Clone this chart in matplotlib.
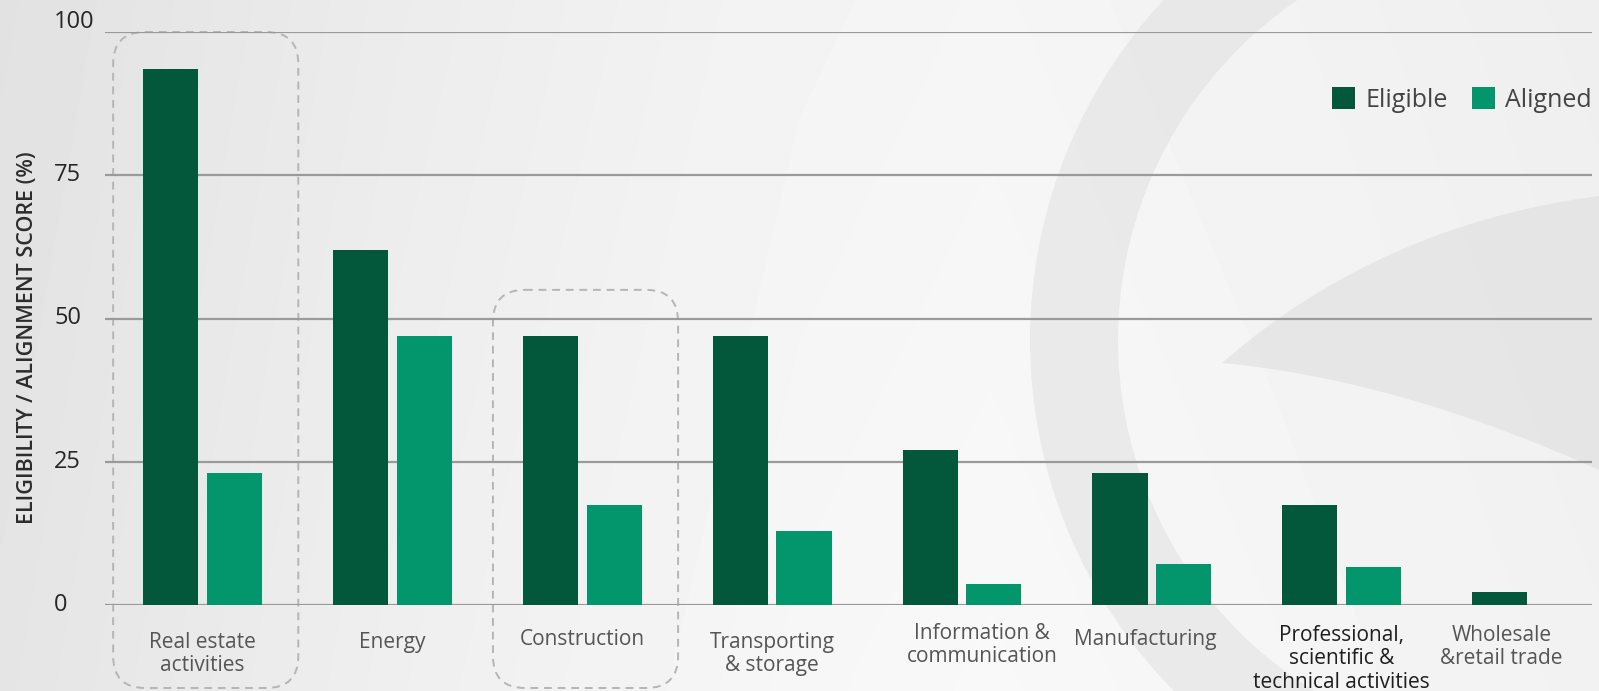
import numpy as np
import matplotlib
matplotlib.use("Agg")
import matplotlib.pyplot as plt
from matplotlib.patches import FancyBboxPatch, Wedge, Polygon, Patch
from matplotlib.transforms import blended_transform_factory

# ---------------- data ----------------
categories = [
    "Real estate\nactivities",
    "Energy",
    "Construction",
    "Transporting\n& storage",
    "Information &\ncommunication",
    "Manufacturing",
    "Professional,\nscientific &\ntechnical activities",
    "Wholesale\n&retail trade",
]
eligible = [93.5, 62, 47, 47, 27, 23, 17.5, 2.2]
aligned = [23, 47, 17.5, 13, 3.6, 7.2, 6.7, 0]
series_names = ["Eligible", "Aligned"]
yticks = [0, 25, 50, 75, 100]
ylabel = "ELIGIBILITY / ALIGNMENT SCORE (%)"
highlighted = [0, 2]          # categories with dashed frames

# ---------------- layout / style ----------------
W, H = 1599, 691
C_ELIG = "#03583c"
C_ALIG = "#03956b"
FONT = ["Open Sans", "DejaVu Sans"]
plt.rcParams["font.family"] = FONT

fig = plt.figure(figsize=(W / 100, H / 100), dpi=100)

# background axes in pixel coordinates (origin top-left)
bg = fig.add_axes([0, 0, 1, 1], zorder=0)
bg.set_xlim(0, W)
bg.set_ylim(H, 0)
bg.axis("off")
xx = np.linspace(0, 1, 400)
prof = np.interp(xx, [0, 0.25, 0.5, 0.62, 0.8, 1.0],
                 [0.885, 0.925, 0.955, 0.962, 0.95, 0.935])
yy = np.linspace(0, 1, 200)[:, None]
grad = prof[None, :] + 0.012 * yy
bg.imshow(np.clip(grad, 0, 1), cmap="gray", vmin=0, vmax=1,
          extent=[0, W, H, 0], aspect="auto", interpolation="bicubic")


def qbez(p0, p1, p2, n=40):
    t = np.linspace(0, 1, n)[:, None]
    p0, p1, p2 = map(np.asarray, (p0, p1, p2))
    return (1 - t) ** 2 * p0 + 2 * (1 - t) * t * p1 + t ** 2 * p2


# decorative swoosh
bg.add_patch(Wedge((1530, 340), 500, 0, 360, width=88,
                   facecolor="#dcdcdc", edgecolor="none", alpha=0.45))
upper = qbez((1222, 363), (1380, 225), (1599, 196))
lower = qbez((1599, 470), (1400, 380), (1222, 363))
bg.add_patch(Polygon(np.vstack([upper, lower]), closed=True,
                     facecolor="#d8d8d8", edgecolor="none", alpha=0.45))

# main axes
left_px, right_px = 105, 1592
top_px, bottom_px = 32, 605
ax = fig.add_axes([left_px / W, 1 - bottom_px / H,
                   (right_px - left_px) / W, (bottom_px - top_px) / H],
                  zorder=2)
ax.set_facecolor("none")

step_px = 189.9
c0_px = 202.4
x = np.arange(len(categories))
ax.set_xlim((left_px - c0_px) / step_px, (right_px - c0_px) / step_px)
ax.set_ylim(0, 100)

bw = 0.29
off = 0.168
ax.bar(x - off, eligible, width=bw, color=C_ELIG, zorder=3, label=series_names[0])
ax.bar(x + off, aligned, width=bw, color=C_ALIG, zorder=3, label=series_names[1])

for s in ax.spines.values():
    s.set_visible(False)
ax.set_xticks([])
ax.set_yticks(yticks)
ax.tick_params(axis="y", length=0, labelleft=False)
ax.yaxis.grid(True, color="#9a9a9a", linewidth=1.6, zorder=1)
ax.set_axisbelow(True)

# y tick labels (left aligned)
ytr = blended_transform_factory(bg.transData, ax.transData)
for t in yticks:
    dy = 1.7 if t == yticks[-1] else 0
    ax.text(54, t + dy, str(t), transform=ytr, ha="left", va="center",
            fontsize=17, color="#262626", clip_on=False)

# x category labels
lab_dx = [0, 0, 0, 0, 0.105, -0.037, 0, -0.16]
lab_dy = [2, 2, -1, 2, -7, -1, -5, -5]
lab_col = ["#555555"] * 6 + ["#1e1e1e", "#555555"]
tr = blended_transform_factory(ax.transData, bg.transData)
for i, name in enumerate(categories):
    ax.text(i + lab_dx[i], 630 + lab_dy[i], name, transform=tr,
            ha="center", va="top", fontsize=15, color=lab_col[i],
            linespacing=1.15, multialignment="center", clip_on=False)

# y axis label
bg.text(28, 338, ylabel, rotation=90, ha="center", va="center",
        fontsize=15.5, fontweight="semibold", color="#2c2c2c")

# legend
handles = [Patch(facecolor=C_ELIG), Patch(facecolor=C_ALIG)]
leg = ax.legend(handles, series_names, loc="center right",
                bbox_to_anchor=(1592, 100), bbox_transform=bg.transData,
                ncol=2, frameon=False, fontsize=18, handlelength=0.92,
                handleheight=0.92, handletextpad=0.4, columnspacing=1.0,
                borderpad=0, borderaxespad=0)
for t in leg.get_texts():
    t.set_color("#444444")

# dashed highlight frames around selected categories
fig.canvas.draw()
box_tops = [100, 55]
for k, i in enumerate(highlighted):
    xl = ax.transData.transform((i - 0.47, box_tops[k]))
    xr = ax.transData.transform((i + 0.505, box_tops[k]))
    x0 = xl[0]
    w = xr[0] - xl[0]
    ytop = H - xl[1]
    ybot = 688
    bg.add_patch(FancyBboxPatch((x0, ytop), w, ybot - ytop,
                                boxstyle="round,pad=0,rounding_size=32",
                                fill=False, edgecolor="#b5b5b5",
                                linewidth=1.4, linestyle=(0, (4, 3)),
                                zorder=5))

fig.savefig("out.png", dpi=100)
